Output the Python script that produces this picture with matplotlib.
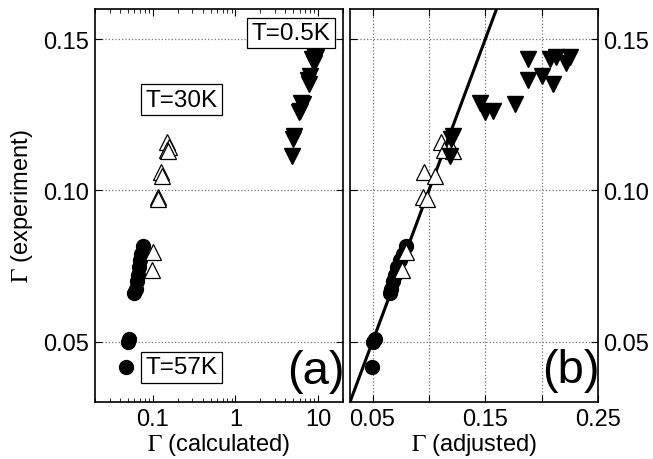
import matplotlib
matplotlib.use('Agg')
import matplotlib.pyplot as plt
from matplotlib.ticker import FixedLocator, FixedFormatter, LogLocator, NullFormatter

plt.rcParams['font.family'] = ['Liberation Sans', 'DejaVu Sans']
plt.rcParams['mathtext.fontset'] = 'stix'

# T = 57 K (filled circles)
c_exp = [0.0415, 0.0500, 0.0510, 0.0660, 0.0675, 0.0700, 0.0720, 0.0745, 0.0770, 0.0790, 0.0815]
c_calc = [0.048, 0.050, 0.052, 0.060, 0.062, 0.064, 0.066, 0.068, 0.071, 0.073, 0.076]
c_adj = [0.0495, 0.0505, 0.0525, 0.0655, 0.0665, 0.0680, 0.0700, 0.0720, 0.0740, 0.0770, 0.0800]

# T = 30 K (open up-triangles)
u_exp = [0.1160, 0.1145, 0.1135, 0.1130, 0.1060, 0.1047, 0.0977, 0.0970, 0.0795, 0.0735]
u_calc = [0.150, 0.155, 0.148, 0.152, 0.125, 0.130, 0.115, 0.117, 0.100, 0.097]
u_adj = [0.111, 0.119, 0.113, 0.121, 0.096, 0.105, 0.095, 0.098, 0.080, 0.076]

# T = 0.5 K (filled down-triangles)
d_exp = [0.1436, 0.1436, 0.1440, 0.1440, 0.1420, 0.1364, 0.1380, 0.1353,
         0.1290, 0.1259, 0.1264, 0.1286, 0.1181, 0.1170, 0.1115]
d_calc = [8.5, 9.0, 9.2, 9.5, 8.8, 7.6, 8.0, 7.8, 6.2, 5.8, 6.0, 6.5, 5.1, 5.0, 4.8]
d_adj = [0.188, 0.2075, 0.213, 0.225, 0.222, 0.188, 0.200, 0.210,
         0.145, 0.150, 0.157, 0.176, 0.1216, 0.120, 0.1187]

ideal = [0.03, 0.16]

fig = plt.figure(figsize=(6.53, 4.6), dpi=100)
ax1 = fig.add_axes([95/653, 57/460, 248/653, 393/460])
ax2 = fig.add_axes([350/653, 57/460, 248/653, 393/460])

ms = 10
fs = 17
for ax, xc, xu, xd in [(ax1, c_calc, u_calc, d_calc), (ax2, c_adj, u_adj, d_adj)]:
    if ax is ax2:
        ax.plot(ideal, ideal, color='black', lw=2.2, zorder=2)
    ax.plot(xc, c_exp, 'o', ms=ms, mfc='black', mec='black', zorder=3)
    ax.plot(xu, u_exp, '^', ms=ms + 1, mfc='white', mec='black', mew=0.9, zorder=3)
    ax.plot(xd, d_exp, 'v', ms=ms + 1, mfc='black', mec='black', zorder=3)
    ax.set_ylim(0.03, 0.16)
    ax.yaxis.set_major_locator(FixedLocator([0.05, 0.10, 0.15]))
    ax.yaxis.set_major_formatter(FixedFormatter(['0.05', '0.10', '0.15']))
    ax.tick_params(which='both', direction='in', top=True, right=True, labelsize=fs)
    ax.tick_params(which='major', length=5, pad=4)
    ax.tick_params(which='minor', length=3)
    for s in ax.spines.values():
        s.set_linewidth(1.2)

# left panel
ax1.set_xscale('log')
ax1.set_xlim(0.02, 20)
ax1.xaxis.set_major_locator(FixedLocator([0.1, 1, 10]))
ax1.xaxis.set_major_formatter(FixedFormatter(['0.1', '1', '10']))
ax1.xaxis.set_minor_locator(LogLocator(base=10, subs=range(2, 10)))
ax1.xaxis.set_minor_formatter(NullFormatter())
ax1.grid(axis='y', linestyle=':', color='0.45', lw=0.9)
ax1.set_xlabel(r'$\Gamma$ (calculated)', fontsize=fs, labelpad=1)
ax1.set_ylabel(r'$\Gamma$ (experiment)', fontsize=fs, labelpad=6)

box = dict(boxstyle='square,pad=0.18', fc='white', ec='black', lw=0.9)
ax1.text(0.79, 0.939, 'T=0.5K', transform=ax1.transAxes, fontsize=17.5,
         ha='center', va='center', bbox=box)
ax1.text(0.35, 0.769, 'T=30K', transform=ax1.transAxes, fontsize=17.5,
         ha='center', va='center', bbox=box)
ax1.text(0.35, 0.088, 'T=57K', transform=ax1.transAxes, fontsize=17.5,
         ha='center', va='center', bbox=box)
ax1.text(0.89, 0.079, '(a)', transform=ax1.transAxes, fontsize=34,
         ha='center', va='center')

# right panel
ax2.set_xlim(0.03, 0.25)
ax2.xaxis.set_major_locator(FixedLocator([0.05, 0.10, 0.15, 0.20, 0.25]))
ax2.xaxis.set_major_formatter(FixedFormatter(['0.05', '', '0.15', '', '0.25']))
ax2.grid(linestyle=':', color='0.45', lw=0.9)
ax2.yaxis.tick_right()
ax2.tick_params(which='both', direction='in', left=True, right=True)
ax2.set_xlabel(r'$\Gamma$ (adjusted)', fontsize=fs, labelpad=1)
ax2.text(0.891, 0.081, '(b)', transform=ax2.transAxes, fontsize=34,
         ha='center', va='center')

fig.savefig('out.png', dpi=100)
